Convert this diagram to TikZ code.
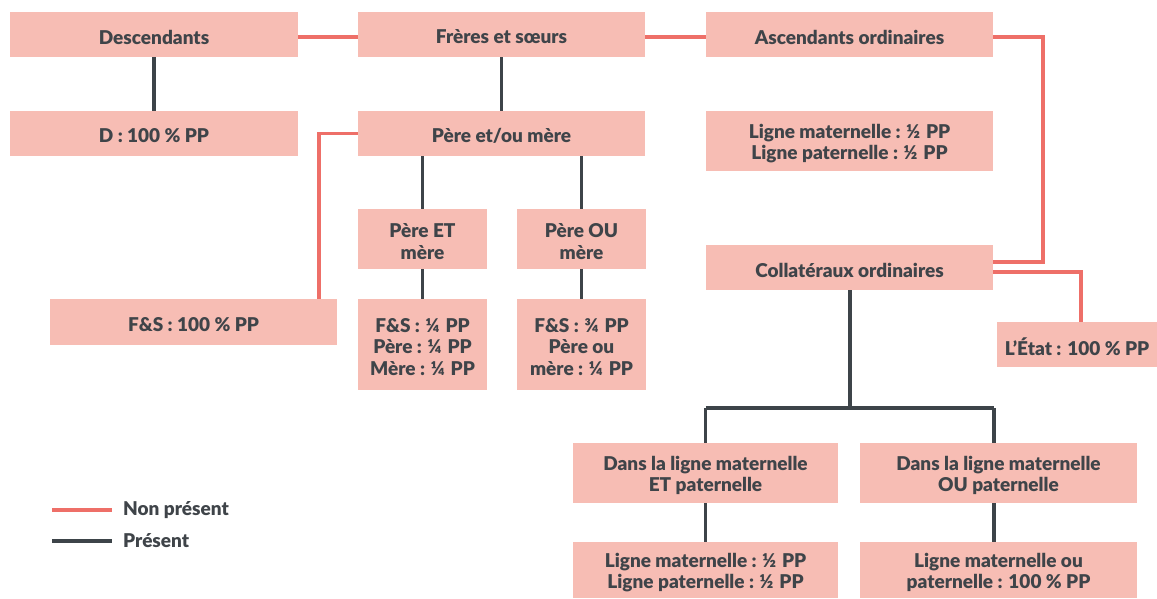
\documentclass[tikz,border=0pt]{standalone}
\usepackage{fontspec}
\setmainfont{Lato}[BoldFont={Lato Black}]
\definecolor{boxc}{HTML}{F7BDB4}
\definecolor{redl}{HTML}{EE6F68}
\definecolor{darkl}{HTML}{3D4449}
\definecolor{txt}{HTML}{3F4449}
\newcommand{\fr}[1]{\ \hspace{1pt}#1\hspace{1.5pt}\ }
\begin{document}
\begin{tikzpicture}[x=1pt,y=-1pt,
  box/.style={fill=boxc, inner sep=0pt, anchor=center},
  lab/.style={text=txt, font=\fontsize{19}{21.5}\selectfont\bfseries, align=center, inner sep=0pt, yshift=-2.5pt},
  nonp/.style={draw=redl, line width=3.8pt},
  pres/.style={draw=darkl, line width=3.8pt},
  lbl/.style={text=txt, font=\fontsize{19}{21}\selectfont\bfseries, anchor=west, inner sep=0pt}]
\useasboundingbox (0,0) rectangle (1157,599);
% boxes
\node[box, minimum width=288pt, minimum height=45pt, label={[lab]center:Descendants}] (desc) at (154,34.5) {};
\node[box, minimum width=288pt, minimum height=45pt, label={[lab]center:{D : 100 \% PP}}] (d100) at (154,133.5) {};
\node[box, minimum width=287pt, minimum height=45pt, label={[lab]center:{Frères et sœurs}}] (fs) at (501.5,34.5) {};
\node[box, minimum width=287pt, minimum height=45pt, label={[lab]center:{Père et/ou mère}}] (pom) at (501.5,133.5) {};
\node[box, minimum width=287pt, minimum height=45pt, label={[lab]center:{Ascendants ordinaires}}] (asc) at (849.5,34.5) {};
\node[box, minimum width=287pt, minimum height=60pt, label={[lab]center:{Ligne maternelle :\fr{½}PP\\Ligne paternelle :\fr{½}PP}}] (lmp) at (849.5,141) {};
\node[box, minimum width=129pt, minimum height=60pt, label={[lab]center:{Père ET\\mère}}] (pet) at (422.5,239) {};
\node[box, minimum width=129pt, minimum height=60pt, label={[lab]center:{Père OU\\mère}}] (pou) at (581.5,239) {};
\node[box, minimum width=287pt, minimum height=46pt, label={[lab]center:{F\&S : 100 \% PP}}] (fs100) at (193.5,322) {};
\node[box, minimum width=129pt, minimum height=91pt, label={[lab]center:{F\&S :\fr{¼}PP\\Père :\fr{¼}PP\\Mère :\fr{¼}PP}}] (fsq) at (422.5,344.5) {};
\node[box, minimum width=129pt, minimum height=91pt, label={[lab]center:{F\&S :\fr{¾}PP\\Père ou\\mère :\fr{¼}PP}}] (fstq) at (581.5,344.5) {};
\node[box, minimum width=287pt, minimum height=45pt, label={[lab]center:{Collatéraux ordinaires}}] (coll) at (849.5,267.5) {};
\node[box, minimum width=160pt, minimum height=45pt, label={[lab]center:{L’État : 100 \% PP}}] (etat) at (1077,344.5) {};
\node[box, minimum width=265pt, minimum height=60pt, label={[lab]center:{Dans la ligne maternelle\\ET paternelle}}] (det) at (705.5,473) {};
\node[box, minimum width=277pt, minimum height=60pt, label={[lab]center:{Dans la ligne maternelle\\OU paternelle}}] (dou) at (998.5,473) {};
\node[box, minimum width=265pt, minimum height=56pt, label={[lab]center:{Ligne maternelle :\fr{½}PP\\Ligne paternelle :\fr{½}PP}}] (lmp2) at (705.5,570) {};
\node[box, minimum width=277pt, minimum height=56pt, label={[lab]center:{Ligne maternelle ou\\paternelle : 100 \% PP}}] (lou) at (998.5,570) {};
% connectors: non present
\draw[nonp] ([yshift=-2.5pt]desc.east) -- ([yshift=-2.5pt]fs.west);
\draw[nonp] ([yshift=-2.5pt]fs.east) -- ([yshift=-2.5pt]asc.west);
\draw[nonp] (pom.west) -| ([xshift=-18pt]fs100.north east);
\draw[nonp] ([yshift=-2.5pt]asc.east) -| ++(49.5,0) |- ([yshift=5.5pt]coll.east);
\draw[nonp] ([yshift=-4.5pt]coll.east) -| ([xshift=4pt]etat.north);
% connectors: present
\draw[pres] (desc) -- (d100);
\draw[pres] (fs) -- (pom);
\draw[pres] (pet.north |- pom.south) -- (pet.north);
\draw[pres] (pou.north |- pom.south) -- (pou.north);
\draw[pres] (pet) -- (fsq);
\draw[pres] (pou) -- (fstq);
\coordinate (jn) at (850,408);
\draw[pres] (coll.south -| jn) -- (jn);
\draw[pres] (det.north |- jn) -- (det.north);
\draw[pres] ([xshift=-4.5pt]dou.north |- jn) -- ([xshift=-4.5pt]dou.north);
\draw[pres] (det.north |- jn) -- ([xshift=-4.5pt]dou.north |- jn);
\draw[pres] (det) -- (lmp2);
\draw[pres] ([xshift=-4.5pt]dou.south) -- ([xshift=-4.5pt]lou.north);
% legend
\coordinate (l1a) at (52,510); \coordinate (l1b) at (112,510);
\coordinate (l2a) at (52,541); \coordinate (l2b) at (112,541);
\draw[nonp] (l1a) -- (l1b);
\draw[pres] (l2a) -- (l2b);
\node[lbl] (ln) at (123,510) {Non présent};
\node[lbl] (lp) at (123,541) {Présent};
\end{tikzpicture}
\end{document}
